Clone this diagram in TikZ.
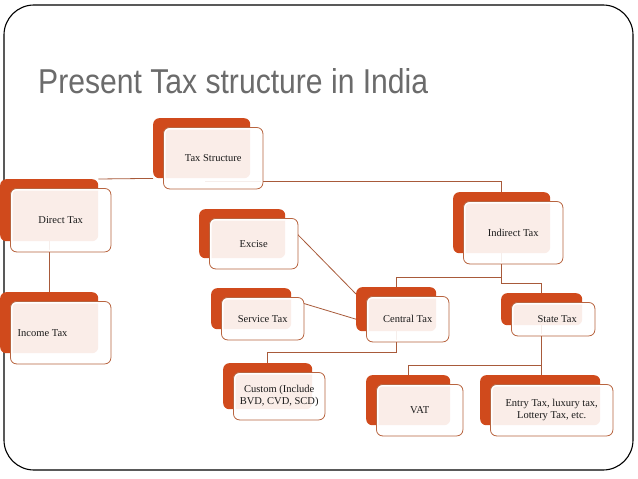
\documentclass[tikz,border=0pt]{standalone}
\usepackage{fontspec}
\setmainfont{Liberation Serif}
\newfontfamily\titlefont{Liberation Sans}
\usepackage{graphicx}
\definecolor{taxorange}{HTML}{D04A1C}
\definecolor{frontline}{HTML}{B8643F}
\definecolor{conncol}{HTML}{A85A3A}
\definecolor{titlegray}{HTML}{6B6B6B}
\definecolor{boxtext}{HTML}{1A1A1A}
\pgfdeclarelayer{paper}
\pgfdeclarelayer{links}
\pgfsetlayers{paper,links,main}
\tikzset{
  backbox/.style={fill=taxorange, rounded corners=6pt, inner sep=0pt, draw=none},
  frontbox/.style={fill=white, fill opacity=0.9, text opacity=1, rounded corners=6pt,
    inner sep=0pt, draw=none, text=boxtext, font=\fontsize{10.5}{12.5}\selectfont},
  conn/.style={draw=conncol, line width=0.8pt},
}
\newcommand\taxbox[7]{%
  \node[backbox, minimum width=#4pt, minimum height=#5pt, anchor=north west] (#1-b) at (#2,#3) {};
  \node[frontbox, minimum width=#4pt+2pt, minimum height=#5pt+1pt, anchor=north west, align=#6] (#1) at (#2+10.5,#3+9.5) {#7};
  \begin{scope}
    \clip[rounded corners=6pt] (#1.north west) rectangle (#1.south east);
    \draw[white, line width=4pt, rounded corners=6pt] (#1.north west) rectangle (#1.south east);
  \end{scope}
  \draw[frontline, line width=0.8pt, rounded corners=6pt] (#1.north west) rectangle (#1.south east);
}
\begin{document}
\begin{tikzpicture}[x=1pt, y=-1pt]
\begin{pgfonlayer}{paper}
\fill[white] (0,0) rectangle (638,479);
\end{pgfonlayer}
\useasboundingbox (0,0) rectangle (638,479);
% slide border
\draw[black, line width=1.1pt, rounded corners=30pt] (4,5) rectangle (633,470);
% title
\node[anchor=base west, inner sep=0pt] (title) at (38,93)
  {\resizebox{390pt}{25pt}{\titlefont\color{titlegray}Present Tax structure in India}};

\coordinate (tsR) at (205,181);
% boxes
\taxbox{ts}{153}{118}{97}{60}{center}{Tax Structure}
\taxbox{dt}{0}{179}{98}{62}{center}{Direct Tax}
\taxbox{in}{0}{292}{98}{61}{left}{\makebox[86pt][l]{Income Tax}}
\taxbox{ex}{199}{209}{86}{49}{center}{Excise}
\taxbox{sv}{211}{288}{80}{41}{center}{Service Tax}
\taxbox{ct}{356}{287}{80}{44}{center}{Central Tax}
\taxbox{st}{501}{293}{81}{32}{center}{\hspace*{8pt}State Tax}
\taxbox{it}{453}{192}{97}{61}{center}{Indirect Tax}
\taxbox{cu}{223}{363}{89}{46}{center}{Custom (Include\\BVD, CVD, SCD)}
\taxbox{va}{366}{375}{84}{50}{center}{VAT}
\taxbox{en}{480}{375}{120}{50}{center}{Entry Tax, luxury tax,\\Lottery Tax, etc.}

% connectors, behind the boxes
\begin{pgfonlayer}{links}
\draw[conn] (ts-b.south west) -- (dt-b.north east);
\draw[conn] (tsR) -| (it-b.north);
\draw[conn] (dt-b.south) -- (in-b.north);
\draw[conn] (it-b.south) -- ++(0,24) -| (ct-b.north);
\draw[conn] (it-b.south) -- ++(0,30) -| (st-b.north);
\draw[conn] (ct-b.south) -- ++(0,21) -| (cu-b.north);
\draw[conn] (st-b.south) -- ++(0,40) -| (va-b.north);
\draw[conn] (st-b.south) -- (st-b.south |- en-b.north);
\draw[conn] ([yshift=9pt]ex.east) -- ([yshift=-7pt]ct-b.north west);
\draw[conn] ([yshift=-6pt]sv.north east) -- ([yshift=-10pt]ct-b.west);
\end{pgfonlayer}
\end{tikzpicture}
\end{document}
